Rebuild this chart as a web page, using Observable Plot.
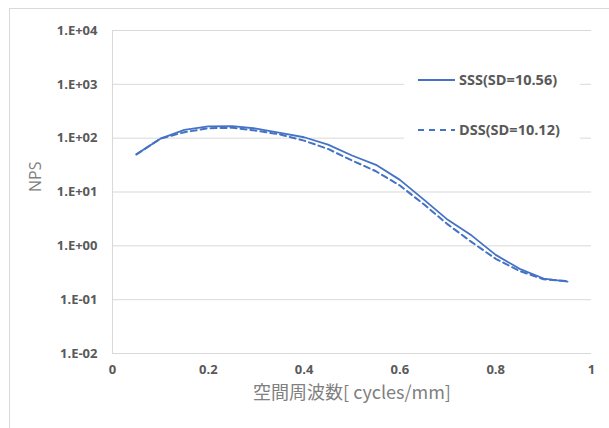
<!DOCTYPE html>
<html><head><meta charset="utf-8">
<script src="https://cdn.jsdelivr.net/npm/d3@7"></script>
<script src="https://cdn.jsdelivr.net/npm/@observablehq/plot@0.6"></script>
<style>
html,body{margin:0;padding:0;background:#fff;}
#wrap{position:relative;width:609px;height:428px;overflow:hidden;background:#fff;}
#frame{position:absolute;left:9px;top:8px;width:720px;height:520px;border:1px solid #d9d9d9;}
#chart{position:absolute;left:0;top:0;}
#legend{position:absolute;left:404px;top:62px;width:176px;height:86px;background:#fff;font-family:"Open Sans","Liberation Sans",sans-serif;font-weight:700;font-size:14.5px;color:#595959;}
.item{position:absolute;left:14px;display:flex;align-items:center;white-space:nowrap;}
.item svg{margin-right:3px;}
</style>
</head><body>
<div id="wrap"><div id="frame"></div><div id="chart"></div>
<div id="legend">
 <div class="item" style="top:8px"><svg width="38" height="6"><line x1="0" y1="3" x2="37" y2="3" stroke="#4472C4" stroke-width="2"/></svg>SSS(SD=10.56)</div>
 <div class="item" style="top:58px"><svg width="38" height="6"><line x1="0" y1="3" x2="37" y2="3" stroke="#4472C4" stroke-width="2" stroke-dasharray="6,5"/></svg>DSS(SD=10.12)</div>
</div>
</div>
<script>
const freq = [0.05,0.10,0.15,0.20,0.25,0.30,0.35,0.40,0.45,0.50,0.55,0.60,0.65,0.70,0.75,0.80,0.85,0.90,0.95];
const sss = [50,98,143,166,168,151,125,104,76,47.6,32,16.8,7.2,3.04,1.55,0.68,0.374,0.247,0.217];
const dss = [50,98,129,153,156,138,117,90,63,38.5,24.3,13.2,5.9,2.5,1.17,0.575,0.34,0.24,0.22];
const xTicks = [0,0.2,0.4,0.6,0.8,1];
const yTicks = [1e-2,1e-1,1e0,1e1,1e2,1e3,1e4];
const seriesNames = ["SSS(SD=10.56)","DSS(SD=10.12)"];

const rows = freq.map((f,i)=>({x:f,y:sss[i],s:seriesNames[0]}));
const rowsD = freq.map((f,i)=>({x:f,y:dss[i],s:seriesNames[1]}));

const fmtY = d => { const e = Math.round(Math.log10(d)); return "1.E" + (e<0?"-":"+") + String(Math.abs(e)).padStart(2,"0"); };
const fmtX = d => String(d);

const chart = Plot.plot({
  width: 609, height: 428,
  marginLeft: 112, marginRight: 18, marginTop: 30, marginBottom: 75,
  style: {fontFamily: "'Open Sans','Liberation Sans',sans-serif", background: "transparent"},
  x: {domain:[0,1], ticks: xTicks, tickFormat: fmtX, tickSize: 0, label: null},
  y: {type:"log", domain:[1e-2,1e4], ticks: yTicks, tickFormat: fmtY, tickSize: 0, label: null},
  marks: [
    Plot.ruleY(yTicks, {stroke:"#d9d9d9", strokeWidth:1}),
    Plot.ruleX([0], {stroke:"#d9d9d9", strokeWidth:1}),
    Plot.axisY({ticks: yTicks, tickFormat: fmtY, tickSize:0, tickPadding:15, fontSize:13, fontWeight:700, fill:"#595959", label:null}),
    Plot.axisX({ticks: xTicks, tickFormat: fmtX, tickSize:0, tickPadding:11, fontSize:13, fontWeight:700, fill:"#595959", label:null}),
    Plot.line(rowsD, {x:"x", y:"y", stroke:"#4472C4", strokeWidth:2, strokeDasharray:"6,4"}),
    Plot.line(rows, {x:"x", y:"y", stroke:"#4472C4", strokeWidth:1.8}),
    Plot.text(["空間周波数[ cycles/mm]"], {frameAnchor:"bottom", dy:45, fontSize:18, fill:"#808080", fontFamily:"'Noto Sans CJK JP',sans-serif"}),
    Plot.text(["NPS"], {frameAnchor:"left", dx:-77, rotate:-90, fontSize:16, fill:"#808080"})
  ]
});
document.getElementById("chart").appendChild(chart);
</script>
</body></html>
